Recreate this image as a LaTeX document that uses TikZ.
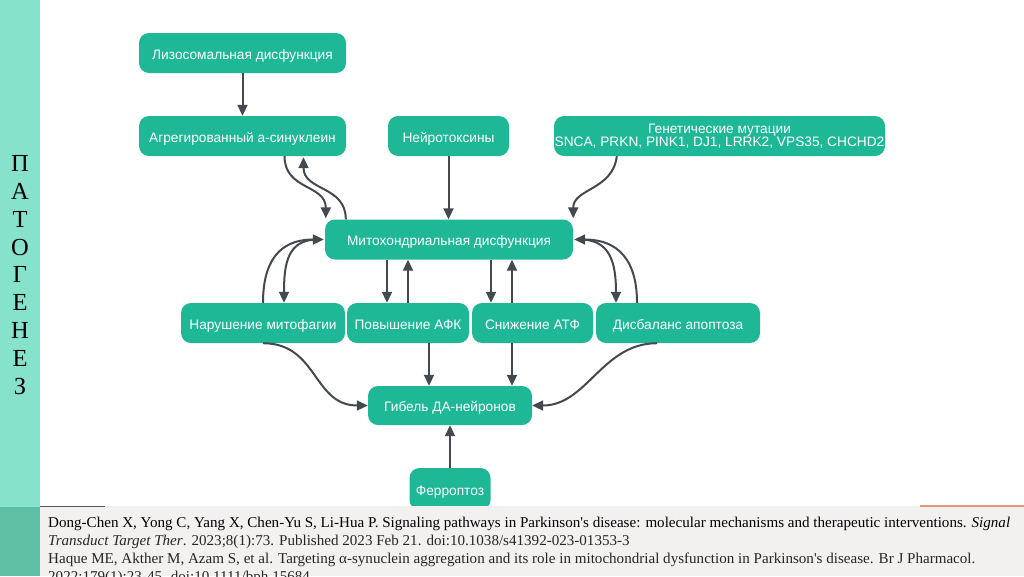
\documentclass[tikz,border=0pt]{standalone}
\usepackage{fontspec}
\setmainfont{Liberation Serif}
\newfontfamily\sansf{Liberation Sans}
\newfontfamily\reffont{Liberation Serif}
\usetikzlibrary{arrows.meta,calc}
\definecolor{nodeteal}{HTML}{1FB897}
\definecolor{bandlight}{HTML}{86E2CB}
\definecolor{banddark}{HTML}{5EBFA5}
\definecolor{refbg}{HTML}{F3F0F0}
\definecolor{arrc}{HTML}{44484F}
\definecolor{reftext}{HTML}{262626}
\newsavebox\refboxa
\sbox\refboxa{\reffont\fontsize{15}{18}\selectfont Dong-Chen X, Yong C, Yang X, Chen-Yu S, Li-Hua P. Signaling pathways in Parkinson's disease: molecular mechanisms and therapeutic interventions. \textit{Signal}}
\begin{document}
\begin{tikzpicture}[x=1pt,y=-1pt,
  box/.style={fill=nodeteal, rounded corners=10pt, text=white,
    font=\sansf\fontsize{13.7}{13.4}\selectfont, inner sep=0pt,
    minimum height=40pt, align=center},
  box1/.style={box, text height=15.5pt, text depth=3pt},
  arr/.style={draw=arrc, line width=2pt, -{Triangle[length=11pt,width=10pt]}},
  refline/.style={anchor=base west, inner sep=0pt, text=reftext,
    font=\reffont\fontsize{15}{18}\selectfont}]
\useasboundingbox (0,0) rectangle (1024,576);
\clip (0,0) rectangle (1024,576);
\fill[white] (0,0) rectangle (1024,576);
% left band
\fill[bandlight] (0,0) rectangle (40,507);
\node[font=\fontsize{24.5}{27.8}\selectfont, align=center, inner sep=0pt, text=black] (title) at (20,275)
  {П\\А\\Т\\О\\Г\\Е\\Н\\Е\\З};

% nodes
\node[box1, minimum width=207pt] (lys) at (242.5,53) {Лизосомальная дисфункция};
\node[box1, minimum width=207pt] (agr) at (242.5,136) {Агрегированный а-синуклеин};
\node[box1, minimum width=121pt] (neu) at (448.5,136) {Нейротоксины};
\node[box, minimum width=331pt] (gen) at (719.5,136) {Генетические мутации\\SNCA, PRKN, PINK1, DJ1, LRRK2, VPS35, CHCHD2};
\node[box1, minimum width=248pt] (mito) at (449,239.5) {Митохондриальная дисфункция};
\node[box1, minimum width=164pt] (mitoph) at (263,323) {Нарушение митофагии};
\node[box1, minimum width=122pt] (afk) at (408,323) {Повышение АФК};
\node[box1, minimum width=121pt] (atf) at (532.5,323) {Снижение АТФ};
\node[box1, minimum width=164pt] (apo) at (678,323) {Дисбаланс апоптоза};
\node[box1, minimum width=164pt, minimum height=39pt] (death) at (450,405.5) {Гибель ДА-нейронов};
\node[box1, minimum width=81pt, minimum height=42pt] (ferr) at (450,489) {Ферроптоз};

% helper coordinates on node borders
\coordinate (afkL) at ($(afk.north)+(-21,0)$);
\coordinate (afkB) at ($(afk.south)+(21,0)$);
\coordinate (atfL) at ($(atf.north)+(-41.5,0)$);
\coordinate (atfR) at ($(atf.north)+(-20.5,0)$);
\coordinate (atfB) at ($(atf.south)+(-20.5,0)$);

% connectors
\draw[arr] (lys) -- (agr);
\draw[arr] ($(agr.south)+(42,0)$) .. controls +(0,34) and +(0,-34) .. ($(mito.north west)+(1,-1)$);
\draw[arr] ($(mito.north west)+(21,0)$) .. controls +(0,-34) and +(0,34) .. ($(agr.south)+(61,1)$);
\draw[arr] (neu.south) -- (neu.south |- mito.north);
\draw[arr] ($(gen.south west)+(63,0)$) .. controls +(-4,34) and +(0,-30) .. ($(mito.north east)+(0,-1)$);
% mitophagy loops
\draw[arr] (mitoph.north) .. controls +(0,-52) and +(-35,0) .. ($(mito.west)+(-1,0)$);
\draw[arr] ($(mito.west)+(-7,0)$) .. controls +(-30,0) and +(0,-40) .. ($(mitoph.north)+(21,0)$);
% AFK
\draw[arr] (afkL |- mito.south) -- (afkL);
\draw[arr] (afk.north) -- (afk.north |- mito.south);
% ATF
\draw[arr] (atfL |- mito.south) -- (atfL);
\draw[arr] (atfR) -- (atfR |- mito.south);
% apoptosis loops
\draw[arr] ($(apo.north)+(-41,0)$) .. controls +(0,-52) and +(35,0) .. ($(mito.east)+(1,0)$);
\draw[arr] ($(mito.east)+(7,0)$) .. controls +(30,0) and +(0,-40) .. ($(apo.north)+(-62,0)$);
% to death
\draw[arr] (mitoph.south) .. controls +(55,0) and +(-55,0) .. (death.west);
\draw[arr] (afkB) -- (afkB |- death.north);
\draw[arr] (atfB) -- (atfB |- death.north);
\draw[arr] ($(apo.south)+(-21,0)$) .. controls +(-55,0) and +(55,0) .. (death.east);
\draw[arr] (ferr.north) -- (ferr.north |- death.south);

% reference area
\fill[banddark] (0,507) rectangle (40,576);
\fill[refbg] (40,506) rectangle (1024,576);
\draw[gray!70!black, line width=1.5pt] (40,506.5) -- (105,506.5);
\draw[brown!70!red, line width=1.2pt, opacity=0.6] (920,506) -- (1024,506);
\pgfmathsetmacro\rfac{962/\wd\refboxa}
\node[refline] (r1) at (48,527) {\scalebox{\rfac}[1]{\usebox\refboxa}};
\node[refline] (r2) at (48,545) {\scalebox{\rfac}[1]{\textit{Transduct Target Ther}. 2023;8(1):73. Published 2023 Feb 21. doi:10.1038/s41392-023-01353-3}};
\node[refline] (r3) at (48,563.5) {\scalebox{\rfac}[1]{Haque ME, Akther M, Azam S, et al. Targeting α-synuclein aggregation and its role in mitochondrial dysfunction in Parkinson's disease. Br J Pharmacol.}};
\node[refline] (r4) at (48,581) {\scalebox{\rfac}[1]{2022;179(1):23-45. doi:10.1111/bph.15684.}};
\end{tikzpicture}
\end{document}
